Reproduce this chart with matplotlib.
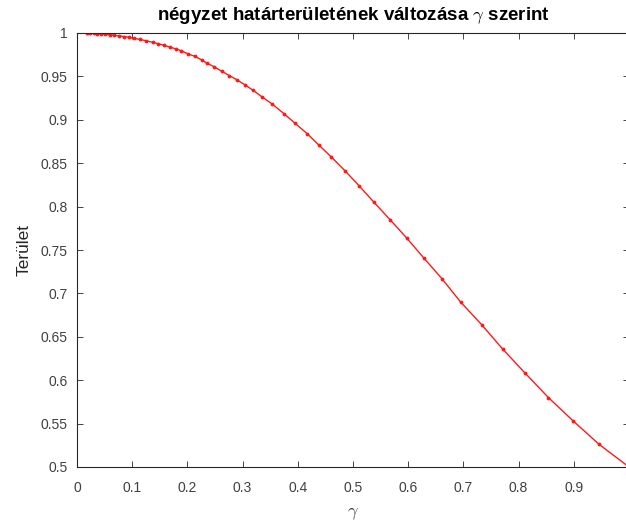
import matplotlib as mpl
mpl.use('Agg')
import matplotlib.pyplot as plt

# gamma values (markers)
gamma = [0.018, 0.024, 0.030, 0.036, 0.043, 0.051, 0.059, 0.067, 0.076, 0.085,
         0.094, 0.104, 0.114, 0.125, 0.137, 0.147, 0.158, 0.168, 0.179, 0.189,
         0.201, 0.214, 0.226, 0.236, 0.249, 0.262, 0.276, 0.290, 0.305, 0.319,
         0.336, 0.354, 0.375, 0.395, 0.417, 0.438, 0.461, 0.486, 0.511, 0.538,
         0.567, 0.597, 0.628, 0.661, 0.695, 0.733, 0.771, 0.812, 0.854, 0.899,
         0.946, 1.000]
terulet = [0.9998, 0.9997, 0.9995, 0.9993, 0.9989, 0.9985, 0.9980, 0.9974, 0.9967, 0.9959,
           0.9950, 0.9938, 0.9926, 0.9911, 0.9893, 0.9877, 0.9858, 0.9839, 0.9817, 0.9796,
           0.976, 0.973, 0.969, 0.965, 0.961, 0.956, 0.951, 0.946, 0.940, 0.934,
           0.926, 0.918, 0.907, 0.896, 0.884, 0.871, 0.857, 0.841, 0.824, 0.805,
           0.785, 0.764, 0.741, 0.717, 0.690, 0.664, 0.636, 0.608, 0.580, 0.553,
           0.526, 0.500]

xticks = [0, 0.1, 0.2, 0.3, 0.4, 0.5, 0.6, 0.7, 0.8, 0.9, 1]
yticks = [0.5, 0.55, 0.6, 0.65, 0.7, 0.75, 0.8, 0.85, 0.9, 0.95, 1]

plt.rcParams['font.family'] = ['Liberation Sans', 'DejaVu Sans']
plt.rcParams['mathtext.fontset'] = 'cm'
gray = '#262626'

fig = plt.figure(figsize=(6.26, 5.23), dpi=100)
ax = fig.add_axes([77/626, 56/523, 552/626, 434/523])
ax.plot(gamma, terulet, color='#ff1a1a', marker='.', markersize=3.5, linewidth=1)

ax.set_xlim(0, 1)
ax.set_ylim(0.5, 1)
ax.set_xticks(xticks)
ax.set_xticklabels(['%g' % t for t in xticks])
ax.set_yticks(yticks)
ax.set_yticklabels(['%g' % t for t in yticks])
ax.tick_params(direction='in', top=True, right=True, length=4, width=0.6,
               colors=gray, labelsize=10, labelcolor='#404040')
ax.tick_params(axis='x', pad=10)
ax.tick_params(axis='y', pad=7)
for s in ax.spines.values():
    s.set_color(gray)
    s.set_linewidth(0.8)

ax.set_xlabel(r'$\gamma$', fontsize=13, color='#404040', labelpad=7)
ax.set_ylabel('Terület', fontsize=12.5, color='#262626', labelpad=6)
ax.set_title(r'négyzet határterületének változása $\gamma$ szerint',
             fontsize=13.5, fontweight='bold', color='black', pad=9)

fig.savefig('out.png', dpi=100)
